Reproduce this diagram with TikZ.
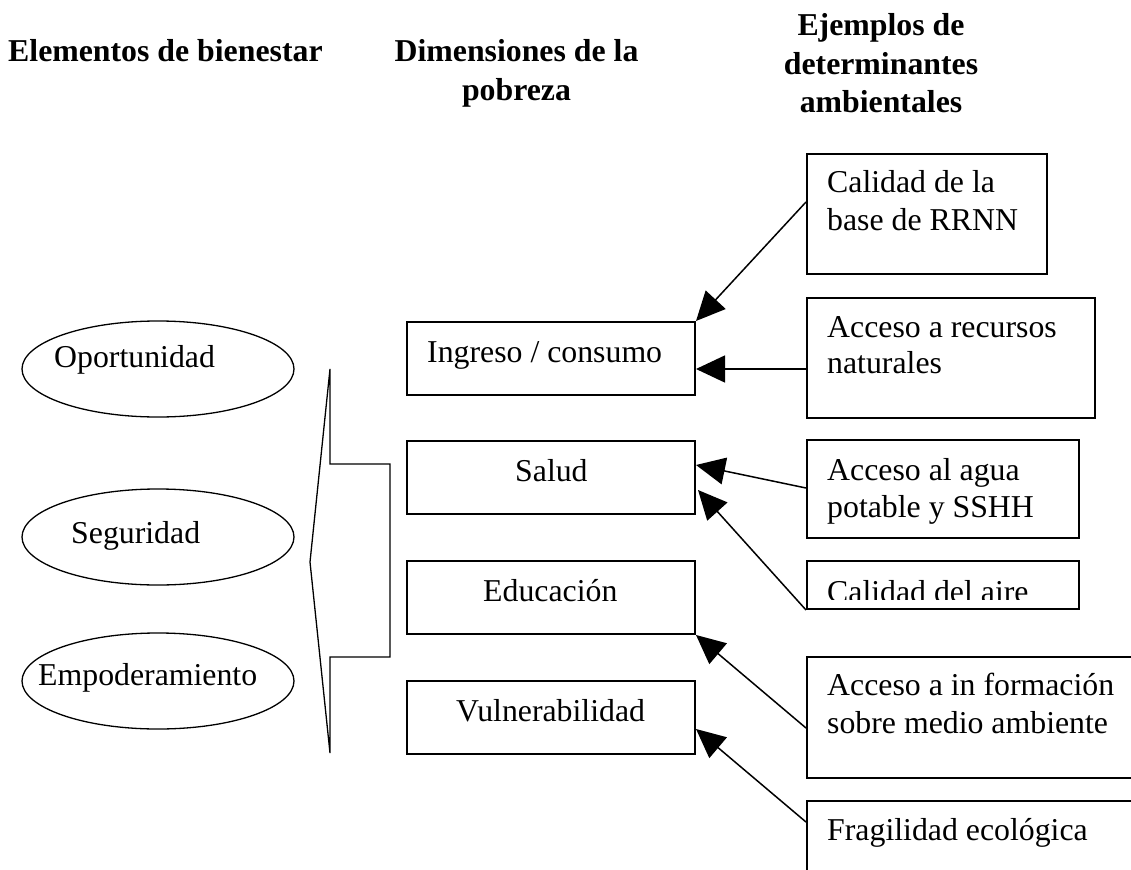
\documentclass[tikz,border=0pt]{standalone}
\usepackage{fontspec}
\setmainfont{Liberation Serif}
\usetikzlibrary{arrows.meta,shapes.geometric}
\tikzset{
  txt/.style={inner sep=0pt, anchor=base west, font=\fontsize{31.8}{37.5}\selectfont},
  head/.style={inner sep=0pt, anchor=base, font=\fontsize{31.8}{37.5}\selectfont\bfseries},
  dimbox/.style={draw, line width=2pt, rectangle, anchor=north west, inner sep=0pt},
  exbox/.style={draw, line width=2pt, rectangle, anchor=north west, inner sep=0pt},
  elem/.style={draw, line width=1.3pt, ellipse, minimum width=272pt, minimum height=96pt, inner sep=0pt},
  arr/.style={line width=1.5pt, -{Triangle[length=29pt,width=27pt]}},
  brk/.style={line width=1.3pt, line join=miter}
}
\begin{document}
\begin{tikzpicture}[x=1pt,y=-1pt]
\clip[use as bounding box] (0,0) rectangle (1131,869);
\fill[white] (0,0) rectangle (1131,869);

% headings
\node[inner sep=0pt, anchor=base west, font=\fontsize{31.8}{37.5}\selectfont\bfseries] (h1) at (8,62) {Elementos de bienestar};
\node[head] (h2a) at (516.5,62) {Dimensiones de la};
\node[head] (h2b) at (516.5,101) {pobreza};
\node[head] (h3a) at (881,36) {Ejemplos de};
\node[head] (h3b) at (881,75) {determinantes};
\node[head] (h3c) at (881,113) {ambientales};

% ellipses
\node[elem] (e1) at (158,369) {};
\node[elem] (e2) at (158,537) {};
\node[elem] (e3) at (158,681) {};
\node[txt] (e1t) at (54,367) {Oportunidad};
\node[txt] (e2t) at (71,543) {Seguridad};
\node[txt] (e3t) at (38,685) {Empoderamiento};

% bracket
\draw[brk] (330,369) -- (330,464) -- (390,464) -- (390,657) -- (330,657) -- (330,753) -- (310,562) -- cycle;

% dimension boxes
\node[dimbox, minimum width=288pt, minimum height=73pt] (d1) at (406,321) {};
\node[dimbox, minimum width=288pt, minimum height=73pt] (d2) at (406,440) {};
\node[dimbox, minimum width=288pt, minimum height=73pt] (d3) at (406,560) {};
\node[dimbox, minimum width=288pt, minimum height=73pt] (d4) at (406,680) {};
\node[txt] (d1t) at (427,362) {Ingreso / consumo};
\node[txt] (d2t) at (515,481) {Salud};
\node[txt] (d3t) at (483,601) {Educación};
\node[txt] (d4t) at (456,721) {Vulnerabilidad};

% example boxes
\node[exbox, minimum width=240pt, minimum height=120pt] (x1) at (806,153) {};
\node[exbox, minimum width=288pt, minimum height=120pt] (x2) at (806,297) {};
\node[exbox, minimum width=272pt, minimum height=98pt] (x3) at (806,439) {};
\node[exbox, minimum width=272pt, minimum height=48pt] (x4) at (806,560) {};
\node[exbox, minimum width=360pt, minimum height=121pt] (x5) at (806,656) {};
\node[exbox, minimum width=360pt, minimum height=120pt] (x6) at (806,800) {};

\node[txt] (x1a) at (827,193) {Calidad de la};
\node[txt] (x1b) at (827,230) {base de RRNN};
\node[txt] (x2a) at (827,337) {Acceso a recursos};
\node[txt] (x2b) at (827,373) {naturales};
\node[txt] (x3a) at (827,480) {Acceso al agua};
\node[txt] (x3b) at (827,517) {potable y SSHH};
\begin{scope}
\clip (808,562) rectangle (1076,599);
\node[txt] (x4a) at (827,602) {Calidad del aire};
\end{scope}
\node[txt] (x5a) at (827,695) {Acceso a in formación};
\node[txt] (x5b) at (827,733) {sobre medio ambiente};
\node[txt] (x6a) at (827,840) {Fragilidad ecológica};

% arrows
\draw[arr] ([yshift=-49pt]x1.north west) -- (d1.north east);
\draw[arr] ([yshift=-72pt]x2.north west) -- ([yshift=-48pt]d1.north east);
\draw[arr] ([yshift=-49pt]x3.north west) -- ([yshift=-25pt]d2.north east);
\draw[arr] (x4.south west) -- ([yshift=-50pt,xshift=2pt]d2.north east);
\draw[arr] ([yshift=-72pt]x5.north west) -- (d3.south east);
\draw[arr] ([yshift=-22pt]x6.north west) -- ([yshift=-49pt]d4.north east);
\end{tikzpicture}
\end{document}
